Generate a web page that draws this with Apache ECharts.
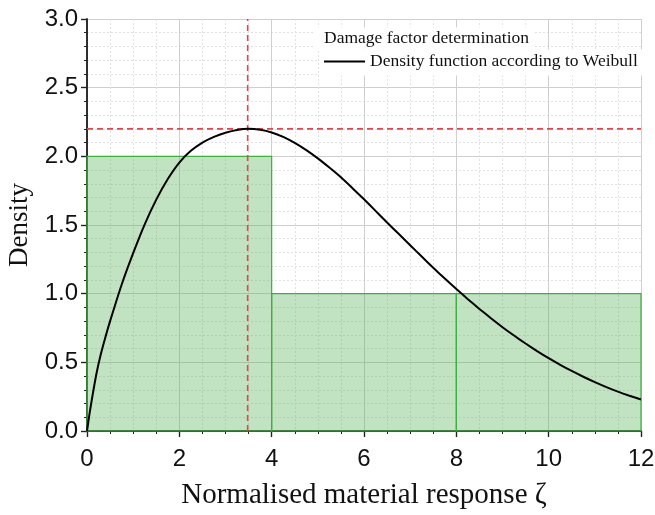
<!DOCTYPE html>
<html>
<head>
<meta charset="utf-8">
<script src="https://cdn.jsdelivr.net/npm/echarts@6/dist/echarts.min.js"></script>
<style>html,body{margin:0;padding:0;background:#fff}#c{width:655px;height:515px}</style>
</head>
<body>
<div id="c"></div>
<script>
// Histogram bins: [start, end, density]
const binStarts = [0, 4, 8];
const binEnds = [4, 8, 12];
const binDensity = [2.0, 1.0, 1.0];

// Weibull density curve
const curveX = [0, 0.05, 0.1, 0.2, 0.3, 0.4, 0.5, 0.75, 1, 1.25, 1.5, 1.75, 2, 2.25, 2.5, 2.75, 3, 3.25, 3.5, 3.75, 4, 4.25, 4.5, 4.75, 5, 5.25, 5.5, 5.75, 6, 6.25, 6.5, 6.75, 7, 7.25, 7.5, 7.75, 8, 8.25, 8.5, 8.75, 9, 9.25, 9.5, 9.75, 10, 10.25, 10.5, 10.75, 11, 11.25, 11.5, 11.75, 12];
const curveY = [0, 0.115, 0.22, 0.41, 0.56, 0.685, 0.80, 1.065, 1.295, 1.505, 1.685, 1.835, 1.955, 2.04, 2.1, 2.142, 2.172, 2.192, 2.2, 2.193, 2.174, 2.142, 2.098, 2.045, 1.985, 1.918, 1.847, 1.768, 1.687, 1.603, 1.518, 1.436, 1.353, 1.27, 1.189, 1.11, 1.034, 0.96, 0.889, 0.821, 0.756, 0.695, 0.637, 0.582, 0.53, 0.482, 0.437, 0.395, 0.356, 0.32, 0.287, 0.257, 0.229];

// Reference lines through the peak
const peakX = 3.48;
const peakY = 2.2;

const histName = 'Damage factor determination';
const curveName = 'Density function according to Weibull';

const chart = echarts.init(document.getElementById('c'));
const serif = 'Liberation Serif';
const sans = 'Liberation Sans';

const axisLine = {show: true, lineStyle: {color: '#222', width: 1.5}};
const refLine = {color: '#e8434b', width: 1.6, type: [6, 4]};

chart.setOption({
  animation: false,
  backgroundColor: '#fff',
  grid: {left: 87, right: 14, top: 19, bottom: 84, containLabel: false, outerBoundsMode: 'none'},
  legend: [
    {
      left: 314, top: 27.5, padding: [2, 5, 2, 5], itemWidth: 0, itemHeight: 0, itemGap: 0,
      backgroundColor: '#fff',
      data: [{name: histName, itemStyle: {opacity: 0}}],
      textStyle: {fontFamily: serif, fontSize: 17.5, color: '#111'}
    },
    {
      left: 319, top: 49.5, padding: [3, 5, 5, 5], itemWidth: 41, itemHeight: 2,
      backgroundColor: '#fff',
      data: [{name: curveName, icon: 'rect'}],
      textStyle: {fontFamily: serif, fontSize: 17.5, color: '#111'}
    }
  ],
  xAxis: [
    {
      type: 'value', min: 0, max: 12, interval: 2, position: 'bottom',
      name: 'Normalised material response ζ', nameLocation: 'middle', nameGap: 50,
      nameTextStyle: {fontFamily: serif, fontSize: 29, color: '#111'},
      axisLine: axisLine,
      axisTick: {show: true, inside: false, length: 6, lineStyle: {color: '#222', width: 1.2}},
      minorTick: {show: true, splitNumber: 4, length: 3, lineStyle: {color: '#222', width: 1}},
      axisLabel: {fontFamily: sans, fontSize: 24, color: '#111', margin: 16},
      splitLine: {show: true, lineStyle: {color: '#cfcfcf', width: 1}},
      minorSplitLine: {show: true, lineStyle: {color: '#e2e2e2', width: 1, type: [2, 2]}}
    },
    {
      type: 'value', min: 0, max: 12, interval: 2, position: 'top',
      axisLine: axisLine,
      axisTick: {show: true, inside: true, length: 6, lineStyle: {color: '#222', width: 1.2}},
      minorTick: {show: true, splitNumber: 4, length: 3, lineStyle: {color: '#222', width: 1}},
      axisLabel: {show: false},
      splitLine: {show: false}
    }
  ],
  yAxis: [
    {
      type: 'value', min: 0, max: 3, interval: 0.5, position: 'left',
      name: 'Density', nameLocation: 'middle', nameGap: 48,
      nameTextStyle: {fontFamily: serif, fontSize: 27, color: '#111'},
      axisLine: axisLine,
      axisTick: {show: true, inside: false, length: 6, lineStyle: {color: '#222', width: 1.2}},
      minorTick: {show: true, splitNumber: 5, length: 3, lineStyle: {color: '#222', width: 1}},
      axisLabel: {fontFamily: sans, fontSize: 24, color: '#111', margin: 9,
        formatter: v => v.toFixed(1)},
      splitLine: {show: true, lineStyle: {color: '#cfcfcf', width: 1}},
      minorSplitLine: {show: true, lineStyle: {color: '#e2e2e2', width: 1, type: [2, 2]}}
    },
    {
      type: 'value', min: 0, max: 3, interval: 0.5, position: 'right',
      axisLine: axisLine,
      axisTick: {show: true, inside: true, length: 6, lineStyle: {color: '#222', width: 1.2}},
      minorTick: {show: true, splitNumber: 5, length: 3, lineStyle: {color: '#222', width: 1}},
      axisLabel: {show: false},
      splitLine: {show: false}
    }
  ],
  series: [
    {
      name: histName,
      type: 'custom',
      xAxisIndex: 0, yAxisIndex: 0,
      data: binStarts.map((s, i) => [s, binEnds[i], binDensity[i]]),
      encode: {x: [0, 1], y: 2},
      itemStyle: {color: 'rgba(76,175,80,0.35)'},
      renderItem: function (params, api) {
        const p0 = api.coord([api.value(0), api.value(2)]);
        const p1 = api.coord([api.value(1), 0]);
        return {
          type: 'rect',
          shape: {x: p0[0], y: p0[1], width: p1[0] - p0[0], height: p1[1] - p0[1]},
          style: {fill: 'rgba(76,175,80,0.35)', stroke: '#3fae3f', lineWidth: 1.2}
        };
      },
      z: 2
    },
    {
      name: 'peakV',
      type: 'line',
      data: [[peakX, 0], [peakX, 3]],
      showSymbol: false, symbol: 'none', silent: true,
      lineStyle: refLine, itemStyle: {color: refLine.color},
      z: 3
    },
    {
      name: 'peakH',
      type: 'line',
      data: [[0, peakY], [12, peakY]],
      showSymbol: false, symbol: 'none', silent: true,
      lineStyle: refLine, itemStyle: {color: refLine.color},
      z: 3
    },
    {
      name: curveName,
      type: 'line',
      xAxisIndex: 0, yAxisIndex: 0,
      data: curveX.map((x, i) => [x, curveY[i]]),
      smooth: 0.2,
      showSymbol: false, symbol: 'none',
      lineStyle: {color: '#000', width: 2},
      itemStyle: {color: '#000'},
      z: 4
    }
  ]
});
</script>
</body>
</html>
